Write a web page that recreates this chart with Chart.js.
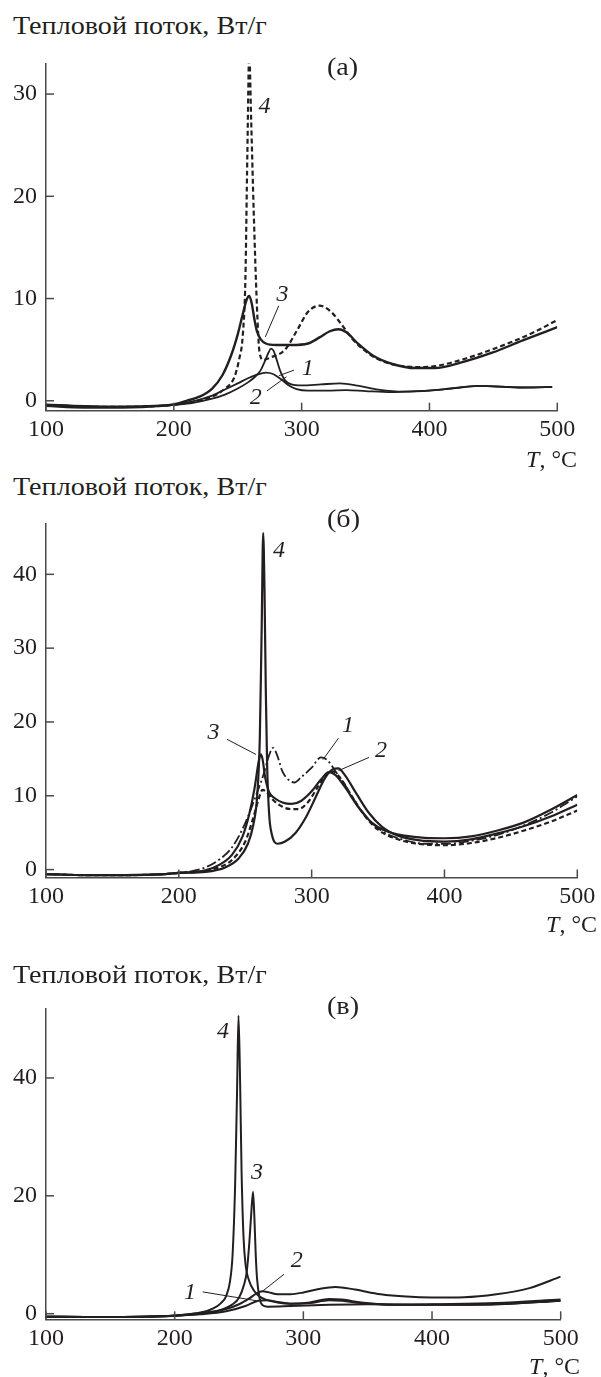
<!DOCTYPE html>
<html>
<head>
<meta charset="utf-8">
<title>Тепловой поток</title>
<script src="https://cdn.jsdelivr.net/npm/chart.js@4.4.0/dist/chart.umd.min.js"></script>
<style>
    body { margin: 0; background: #fff; }
    #page { position: relative; width: 601px; height: 1377px; overflow: hidden;
            font-family: 'Liberation Serif', 'DejaVu Serif', serif; color: #231f20; }
    canvas.panel { position: absolute; left: 0; }
    .txt { position: absolute; font-size: 24px; line-height: 24px; white-space: nowrap; }
    .wide { font-size: 25px; line-height: 24px; transform: scaleX(1.125); transform-origin: 0 0; }
</style>
</head>
<body>
<div id="page">
    <canvas id="chartA" class="panel" style="top:40px" width="601" height="420"></canvas>
    <canvas id="chartB" class="panel" style="top:500px" width="601" height="420"></canvas>
    <canvas id="chartC" class="panel" style="top:985px" width="601" height="392"></canvas>

    <div class="txt wide" style="left:13px; top:14px">Тепловой поток, Вт/г</div>
    <div class="txt wide" style="left:327px; top:55px">(а)</div>
    <div class="txt" style="right:24px; top:447px"><i>T</i>, °C</div>

    <div class="txt wide" style="left:13px; top:475px">Тепловой поток, Вт/г</div>
    <div class="txt wide" style="left:327px; top:507px">(б)</div>
    <div class="txt" style="right:4px; top:912px"><i>T</i>, °C</div>

    <div class="txt wide" style="left:13px; top:963px">Тепловой поток, Вт/г</div>
    <div class="txt wide" style="left:327px; top:994px">(в)</div>
    <div class="txt" style="right:21px; top:1354px"><i>T</i>, °C</div>
</div>

<script>
// ---- data ----
const tempTicks = [100, 200, 300, 400, 500];
const flowTicksA = [0, 10, 20, 30];
const flowTicksB = [0, 10, 20, 30, 40];
const flowTicksC = [0, 20, 40];

// panel (а)
const tempA1 = [100,130,160,190,200,215,230,240,250,258,264,268,271,274,276,278,280,283,287,292,300,315,330,345,360,380,400,420,440,460,480,496];
const flowA1 = [-0.4,-0.55,-0.6,-0.5,-0.4,-0.2,0.2,0.6,1.2,1.8,2.4,3.0,3.8,4.7,5.1,4.9,4.2,3.0,2.0,1.6,1.5,1.6,1.7,1.45,1.1,0.9,1.0,1.25,1.45,1.35,1.3,1.35];
const tempA2 = [100,130,160,190,200,215,230,240,250,258,265,272,278,284,290,296,305,320,335,350,370,390,410,440,470,496];
const flowA2 = [-0.35,-0.5,-0.55,-0.45,-0.35,-0.05,0.5,1.1,1.7,2.2,2.55,2.75,2.6,2.1,1.5,1.15,1.0,1.0,1.05,0.95,0.85,0.95,1.1,1.45,1.3,1.35];
const tempA3 = [100,130,160,190,200,210,220,230,238,245,250,254,257,259,261,263,265,268,272,280,292,305,314,322,329,335,344,356,371,389,404,425,449,473,500];
const flowA3 = [-0.5,-0.65,-0.65,-0.5,-0.35,0.0,0.4,1.2,2.5,4.5,6.5,8.5,9.9,10.25,9.5,8.0,6.8,6.0,5.6,5.45,5.45,5.6,6.2,6.8,7.0,6.7,5.6,4.4,3.6,3.2,3.2,3.75,4.7,5.9,7.2];
const tempA4 = [100,130,160,190,200,215,230,240,247,251,254,256,257.5,259,260.5,262.5,265,267,270,275,287,296,305,314,323,331,340,355,370,390,405,430,455,480,500];
const flowA4 = [-0.45,-0.6,-0.6,-0.5,-0.4,-0.1,0.4,1.2,2.2,4.0,6.5,12,24,34,27.5,18.5,9.3,4.8,4.0,4.2,5.0,6.8,8.7,9.3,8.7,7.5,6.0,4.4,3.6,3.3,3.4,4.2,5.3,6.6,7.9];

// panel (б)
const tempB1 = [100,130,160,190,200,210,220,230,240,250,258,264,268,271,274,278,283,287,292,300,307,312,318,325,335,345,355,370,385,400,420,440,460,480,500];
const flowB1 = [-0.6,-0.75,-0.75,-0.6,-0.4,-0.2,0.3,1.3,3.0,6.3,10.0,13.0,15.5,16.5,15.5,13.3,12.1,11.8,12.5,13.8,15.2,14.8,13.3,11.5,8.6,6.4,5.0,4.0,3.5,3.5,3.9,4.7,6.0,7.7,9.9];
const tempB2 = [100,130,160,190,200,220,230,240,250,256,260,263,266,270,278,285,290,297,305,311,316,322,330,340,350,365,380,400,420,440,460,480,500];
const flowB2 = [-0.6,-0.75,-0.75,-0.6,-0.45,-0.2,0.3,1.3,3.8,7.0,9.5,10.8,10.5,9.6,8.5,8.2,8.2,9.1,11.3,12.9,13.3,12.3,10.0,7.3,5.4,4.1,3.5,3.3,3.6,4.3,5.3,6.5,8.0];
const tempB3 = [100,130,160,190,200,220,230,240,248,253,257,260,261.5,263,265,268,272,278,285,292,300,307,313,318,325,335,345,355,370,385,400,420,440,460,480,500];
const flowB3 = [-0.6,-0.75,-0.75,-0.6,-0.45,-0.1,0.6,2.0,4.5,7.5,11,14.5,15.6,15.0,12.5,10.5,9.7,9.1,8.9,9.3,10.6,12.2,13.2,12.8,11.2,8.5,6.4,5.3,4.6,4.3,4.25,4.5,5.3,6.4,8.1,10.1];
const tempB4 = [100,130,160,190,200,220,235,245,252,256,259,261,262.4,263.5,264.5,265.5,266.5,268,270,274.5,280,288,296,303,310,316,320,325,333,343,353,365,380,400,420,440,460,480,500];
const flowB4 = [-0.6,-0.75,-0.75,-0.6,-0.45,-0.3,0.3,1.5,3.5,6,10,18,33,45.6,38,24,14,7.5,4.8,3.5,3.8,5.0,7.2,9.8,12.4,13.6,13.7,12.8,10.5,7.7,5.8,4.6,4.0,3.8,4.1,4.9,5.9,7.2,8.8];

// panel (в)
const tempC1 = [100,130,160,190,200,220,240,255,265,272,280,290,305,320,330,345,360,380,400,450,500];
const flowC1 = [-0.5,-0.55,-0.55,-0.45,-0.35,-0.1,0.4,1.3,2.2,2.3,2.0,1.7,1.9,2.5,2.4,1.9,1.6,1.5,1.5,1.6,2.2];
const tempC2 = [100,130,160,190,200,220,240,250,258,264,268,272,280,290,300,312,325,340,360,380,400,425,450,475,500];
const flowC2 = [-0.5,-0.55,-0.55,-0.45,-0.35,0.0,0.8,1.6,2.6,3.5,3.8,3.7,3.3,3.3,3.6,4.2,4.55,4.1,3.3,2.9,2.75,2.8,3.3,4.3,6.3];
const tempC3 = [100,130,160,190,200,220,235,245,250,254,256,258,259.5,260.9,262,263,264,266,268,272,290,320,350,400,450,500];
const flowC3 = [-0.5,-0.55,-0.55,-0.45,-0.35,0.1,0.6,1.6,2.7,5,7.1,12,17,20.7,16,10,6,2.6,1.5,1.2,1.3,1.5,1.6,1.5,1.6,2.2];
const tempC4 = [100,130,160,190,200,220,230,236,240,243,245,247,248.5,249.6,250.8,252,253.5,255,258,262,266,272,280,290,305,320,330,345,370,400,450,500];
const flowC4 = [-0.5,-0.55,-0.55,-0.45,-0.3,0.2,0.9,1.8,3.0,5.5,10,22,38,50.6,40,24,13,8.5,5.5,3.8,2.9,2.3,1.9,1.7,1.8,2.3,2.2,1.8,1.5,1.6,1.8,2.4];

// curve numbers: text position + leader line, in data units
const labelsA = [
    { text: '4', t: 271, v: 28.8 },
    { text: '3', t: 285.1, v: 10.4, line: [282.1, 9.3, 271.6, 6.25] },
    { text: '1', t: 304.7, v: 3.1, line: [294, 3.0, 282.2, 2.45] },
    { text: '2', t: 264.1, v: 0.33, line: [272.8, 0.96, 288.1, 2.35] }
];
const labelsB = [
    { text: '4', t: 275.4, v: 43.2 },
    { text: '3', t: 226.1, v: 18.5, line: [236.3, 17.65, 258.1, 15.6] },
    { text: '1', t: 327.4, v: 19.5, line: [320.2, 17.8, 308.5, 14.9] },
    { text: '2', t: 352.2, v: 16.1, line: [343.2, 15.2, 320.2, 13.4] }
];
const labelsC = [
    { text: '4', t: 237.6, v: 47.9 },
    { text: '3', t: 264, v: 23.9 },
    { text: '2', t: 294.8, v: 9.0, line: [285, 6.7, 267.6, 3.7] },
    { text: '1', t: 211.9, v: 3.6, line: [221.8, 3.7, 263.7, 2.2] }
];

// ---- drawing ----
const INK = '#231f20';
const AXIS = '#4a4a4a';
const FONT = "'Liberation Serif', 'DejaVu Serif', serif";

const SOLID = [];
const DASHED = [5, 3];
const DASHDOT = [10, 3, 2, 3];

function series(temps, flows, dash, width) {
    return {
        data: temps.map((t, i) => ({ x: t, y: flows[i] })),
        borderColor: INK,
        borderWidth: width || 2,
        borderDash: dash,
        pointRadius: 0,
        cubicInterpolationMode: 'monotone',
        fill: false
    };
}

// inward tick marks and numbered curve labels
const decorPlugin = {
    id: 'decor',
    afterDraw(chart, args, opts) {
        const { ctx } = chart;
        const x = chart.scales.x;
        const y = chart.scales.y;
        ctx.save();
        ctx.strokeStyle = AXIS;
        ctx.lineWidth = 1.5;
        x.ticks.forEach(tick => {
            const px = x.getPixelForValue(tick.value);
            ctx.beginPath();
            ctx.moveTo(px, y.bottom);
            ctx.lineTo(px, y.bottom - 8);
            ctx.stroke();
        });
        y.ticks.forEach(tick => {
            const py = y.getPixelForValue(tick.value);
            ctx.beginPath();
            ctx.moveTo(x.left, py);
            ctx.lineTo(x.left + 8, py);
            ctx.stroke();
        });

        ctx.fillStyle = INK;
        ctx.strokeStyle = INK;
        ctx.lineWidth = 1;
        ctx.font = 'italic 24px ' + FONT;
        ctx.textAlign = 'center';
        ctx.textBaseline = 'middle';
        (opts.labels || []).forEach(lab => {
            ctx.fillText(lab.text, x.getPixelForValue(lab.t), y.getPixelForValue(lab.v));
            if (lab.line) {
                ctx.beginPath();
                ctx.moveTo(x.getPixelForValue(lab.line[0]), y.getPixelForValue(lab.line[1]));
                ctx.lineTo(x.getPixelForValue(lab.line[2]), y.getPixelForValue(lab.line[3]));
                ctx.stroke();
            }
        });
        ctx.restore();
    }
};

function createPanel(id, datasets, yMin, yMax, yTicks, labels, pad, xAxisHeight) {
    const ctx = document.getElementById(id).getContext('2d');
    return new Chart(ctx, {
        type: 'line',
        data: { datasets: datasets },
        plugins: [decorPlugin],
        options: {
            responsive: false,
            animation: false,
            events: [],
            layout: { padding: { top: pad.top, right: pad.right, left: 0, bottom: 0 } },
            plugins: {
                legend: { display: false },
                tooltip: { enabled: false },
                decor: { labels: labels }
            },
            scales: {
                x: {
                    type: 'linear',
                    min: 100,
                    max: 500,
                    afterBuildTicks: scale => { scale.ticks = tempTicks.map(v => ({ value: v })); },
                    afterFit: scale => { scale.height = xAxisHeight; },
                    grid: { display: false, drawTicks: false },
                    border: { display: true, color: AXIS, width: 1.5 },
                    ticks: {
                        color: INK, padding: 5, maxRotation: 0, autoSkip: false,
                        font: { family: FONT, size: 24 }
                    }
                },
                y: {
                    type: 'linear',
                    min: yMin,
                    max: yMax,
                    afterBuildTicks: scale => { scale.ticks = yTicks.map(v => ({ value: v })); },
                    afterFit: scale => { scale.width = 46; },
                    grid: { display: false, drawTicks: false },
                    border: { display: true, color: AXIS, width: 1.5 },
                    ticks: {
                        color: INK, padding: 9,
                        font: { family: FONT, size: 24 }
                    }
                }
            }
        }
    });
}

document.addEventListener('DOMContentLoaded', () => {
    createPanel('chartA', [
        series(tempA1, flowA1, SOLID, 1.8),
        series(tempA2, flowA2, SOLID, 1.8),
        series(tempA3, flowA3, SOLID, 2.4),
        series(tempA4, flowA4, DASHED, 2.2)
    ], -0.97, 33.0, flowTicksA, labelsA, { top: 5, right: 43.7 }, 49.3);

    createPanel('chartB', [
        series(tempB1, flowB1, DASHDOT, 1.8),
        series(tempB2, flowB2, DASHED, 2.2),
        series(tempB3, flowB3, SOLID, 2.2),
        series(tempB4, flowB4, SOLID, 2.2)
    ], -1.07, 46.9, flowTicksB, labelsB, { top: 10, right: 23.7 }, 42.5);

    createPanel('chartC', [
        series(tempC1, flowC1, SOLID, 2),
        series(tempC2, flowC2, SOLID, 2),
        series(tempC3, flowC3, SOLID, 2),
        series(tempC4, flowC4, SOLID, 2)
    ], -0.95, 51.8, flowTicksC, labelsC, { top: 11.7, right: 40.3 }, 57.7);
});
</script>
</body>
</html>
